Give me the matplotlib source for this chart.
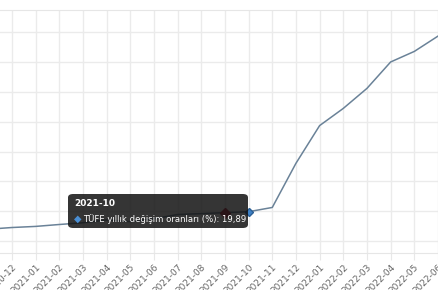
import matplotlib
matplotlib.use('Agg')
import matplotlib.pyplot as plt
from matplotlib.patches import FancyBboxPatch

# Months (index 0 = 2020-12); one extra point each side so the line runs off the edges
months = ['2020-11', '2020-12', '2021-01', '2021-02', '2021-03', '2021-04', '2021-05',
          '2021-06', '2021-07', '2021-08', '2021-09', '2021-10', '2021-11', '2021-12',
          '2022-01', '2022-02', '2022-03', '2022-04', '2022-05', '2022-06']
tufe = [14.03, 14.60, 14.97, 15.61, 16.19, 17.14, 16.59, 17.53, 18.95, 19.25,
        19.58, 19.89, 21.31, 36.08, 48.69, 54.44, 61.14, 69.97, 73.50, 78.62]
tick_labels = months[1:]
hover_month = '2021-10'
hover_value = '19,89'

W, H = 438, 290
fig = plt.figure(figsize=(W / 100, H / 100), dpi=100)
ax = fig.add_axes([0, (H - 253) / H, 1, (253 - 10) / H])

x = [i - 1 for i in range(len(months))]
ax.plot(x, tufe, color='#6a8298', lw=1.1, zorder=3)

# hovered point and the one behind the tooltip
hi = months.index(hover_month)
ax.plot(x[hi], tufe[hi], marker='D', ms=4.5, color='#3d80c4', mec='#2a5f95', zorder=4)
ax.plot(x[hi - 1], tufe[hi - 1], marker='D', ms=5, color='#b0203a', zorder=4)

ax.set_xlim(-0.5, 17.75)
ax.set_ylim(6.08, 87.35)
ax.set_xticks(range(len(tick_labels)))
ax.set_xticklabels(tick_labels, rotation=45, ha='right', va='top',
                   rotation_mode='anchor', fontsize=6.5, color='#666666')
ax.set_yticks(range(10, 90, 10))
ax.tick_params(axis='y', left=False, labelleft=False)
ax.tick_params(axis='x', length=5, color='#e8e8e8', pad=2)
ax.grid(True, color='#ebebeb', lw=1)
ax.set_axisbelow(True)
for s in ['left', 'right']:
    ax.spines[s].set_visible(False)
for s in ['top', 'bottom']:
    ax.spines[s].set_color('#e6e6e6')

# tooltip
box = FancyBboxPatch((68 / W, (H - 228) / H), 180 / W, 34 / H,
                     boxstyle='round,pad=0,rounding_size=0.012',
                     transform=fig.transFigure, fc='#111111', ec='none',
                     alpha=0.85, zorder=10)
fig.patches.append(box)
fig.text(74 / W, (H - 203) / H, hover_month, color='white', fontsize=6.5,
         fontweight='bold', va='center', ha='left', zorder=11)
fig.text(78 / W, (H - 219) / H, '\u25C6', color='#4a8fd4', fontsize=7,
         va='center', ha='center', zorder=11)
fig.text(83 / W, (H - 219) / H,
         'TÜFE yıllık değişim oranları (%): ' + hover_value,
         color='white', fontsize=6.1, va='center', ha='left', zorder=11)

fig.savefig('out.png', dpi=100)
